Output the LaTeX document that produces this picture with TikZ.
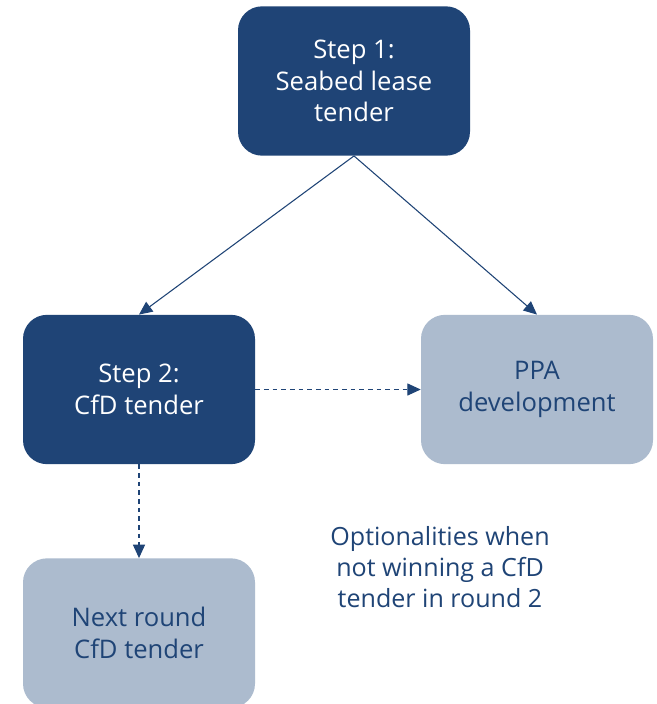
\documentclass[tikz,border=0pt]{standalone}
\usepackage{fontspec}
\setmainfont{Open Sans}
\usetikzlibrary{arrows.meta}
\definecolor{navyblue}{HTML}{1F4476}
\definecolor{greyblue}{HTML}{ACBBCE}
\tikzset{
  stepbox/.style={rounded corners=18pt, minimum width=174pt, minimum height=112pt,
    align=center, font=\fontsize{19.2}{23.5}\selectfont},
  darkbox/.style={stepbox, fill=navyblue, text=white},
  lightbox/.style={stepbox, fill=greyblue, text=navyblue},
  flow/.style={navyblue, line width=0.8pt, -{Triangle[length=10pt,width=9pt]}},
  option/.style={flow, dash pattern=on 3.5pt off 3pt}
}
\begin{document}
\begin{tikzpicture}[x=0.75pt,y=-0.75pt]
  \useasboundingbox (0,0) rectangle (657,704);
  \fill[white] (0,0) rectangle (657,704);

  \node[darkbox] (seabed) at (354,81) {Step 1:\\Seabed lease\\tender};
  \node[darkbox] (cfd) at (139,389.5) {Step 2:\\CfD tender};
  \node[lightbox] (ppa) at (537,389.5) {PPA\\development};
  \node[lightbox] (nextround) at (139,633) {Next round\\CfD tender};

  \node[text=navyblue, align=center, font=\fontsize{18.8}{23.5}\selectfont] (note) at (440,567)
    {Optionalities when\\not winning a CfD\\tender in round 2};

  \draw[flow] (seabed.south) -- (cfd.north);
  \draw[flow] (seabed.south) -- (ppa.north);
  \draw[option] (cfd.east) -- (ppa.west);
  \draw[option] (cfd.south) -- (nextround.north);
\end{tikzpicture}
\end{document}
